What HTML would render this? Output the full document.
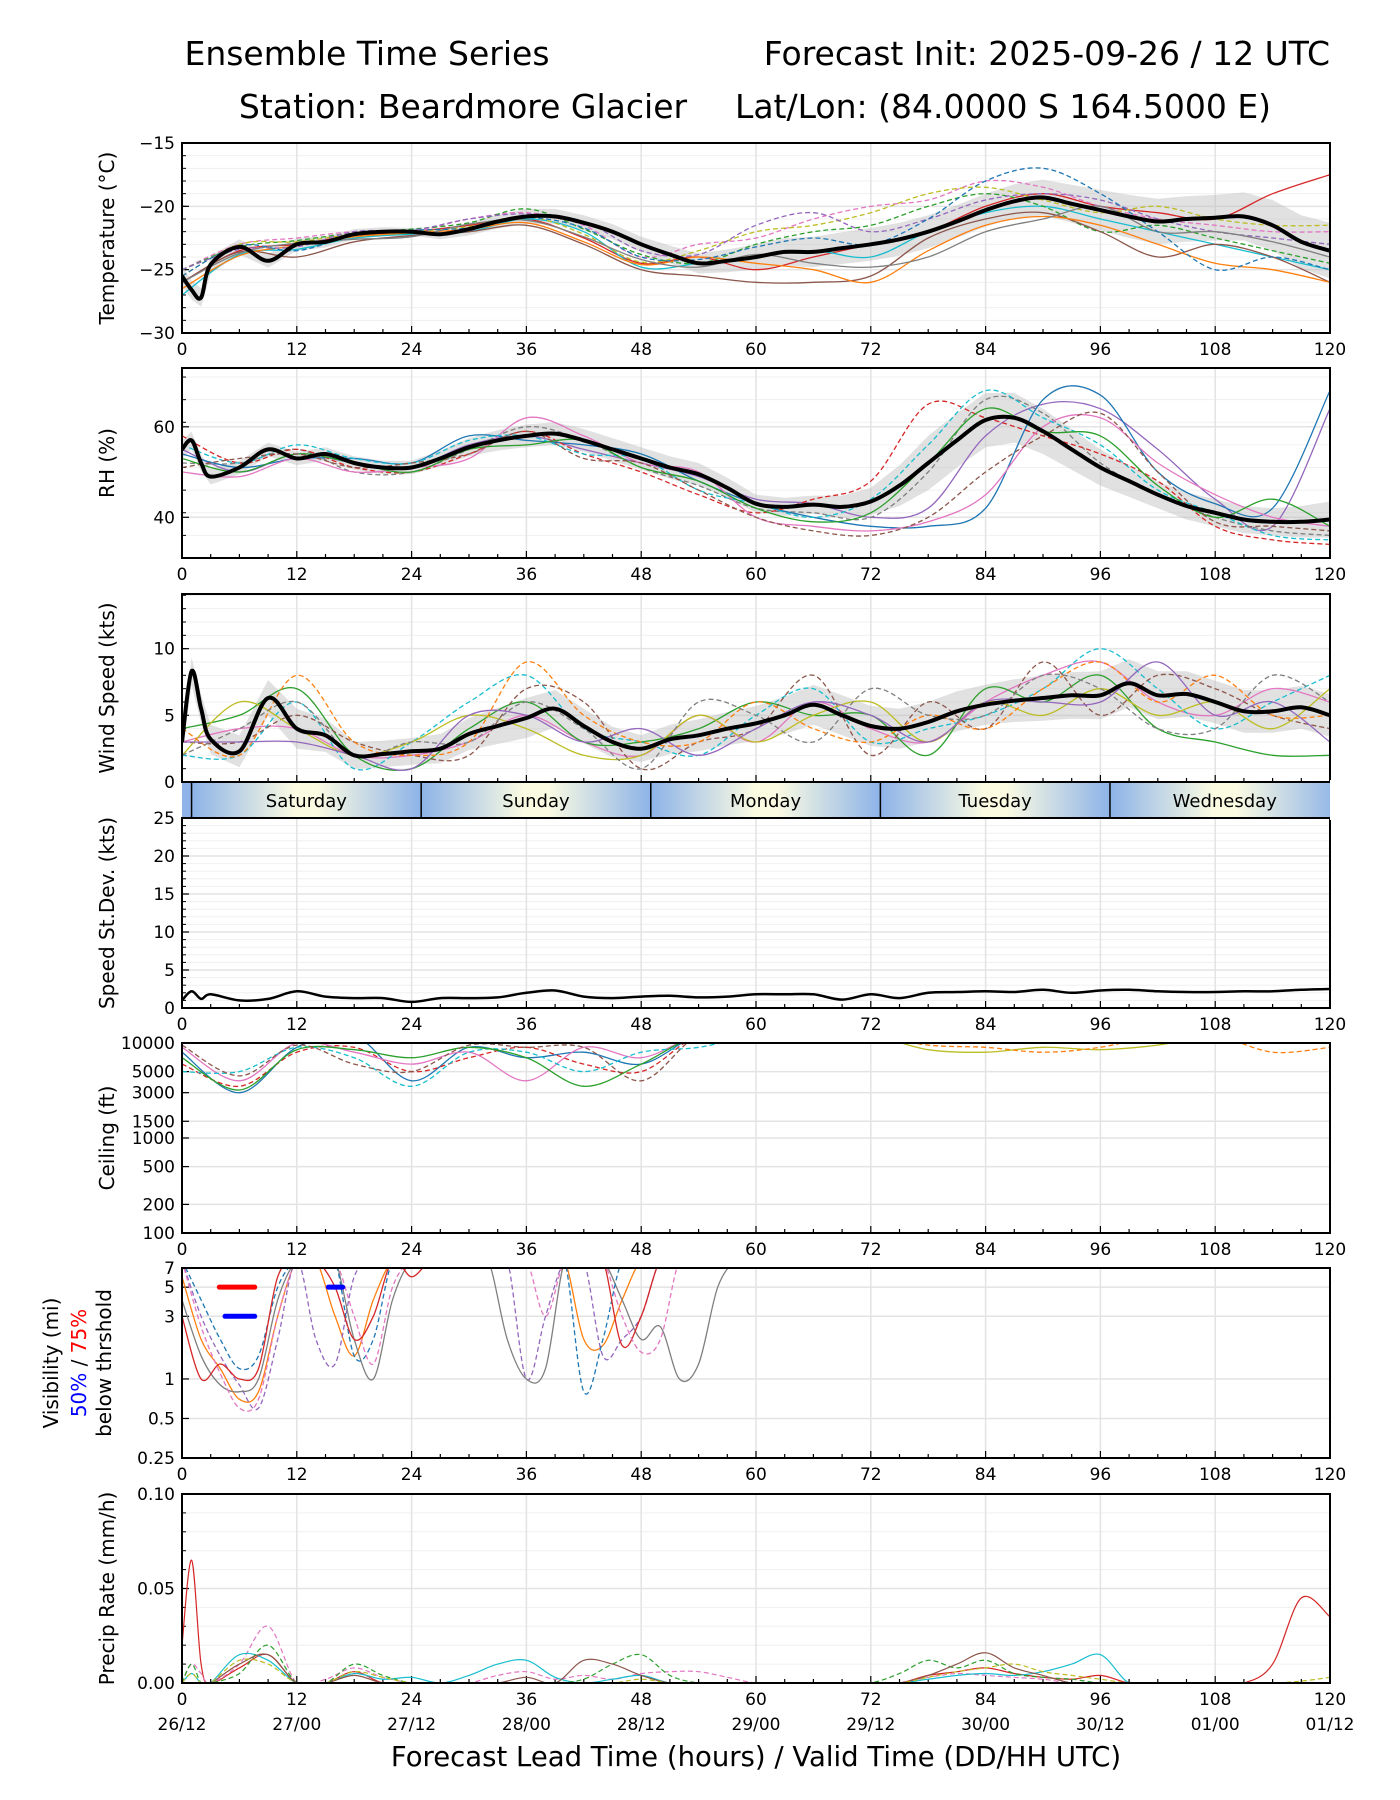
<!DOCTYPE html>
<html><head><meta charset="utf-8"><title>Ensemble Time Series</title>
<style>
html,body{margin:0;padding:0;background:#fff;}
svg{display:block;font-family:"DejaVu Sans","Liberation Sans",sans-serif;}
</style></head>
<body>
<svg id="chart" width="1400" height="1800" viewBox="0 0 1400 1800" xmlns="http://www.w3.org/2000/svg">
<rect x="0" y="0" width="1400" height="1800" fill="#fff"/>
<text x="367" y="65" font-size="33" text-anchor="middle">Ensemble Time Series</text>
<text x="1330" y="65" font-size="33" text-anchor="end">Forecast Init: 2025-09-26 / 12 UTC</text>
<text x="463" y="118" font-size="33" text-anchor="middle">Station: Beardmore Glacier</text>
<text x="1003" y="118" font-size="33" text-anchor="middle">Lat/Lon: (84.0000 S 164.5000 E)</text>
<text x="756" y="1766" font-size="27.5" text-anchor="middle">Forecast Lead Time (hours) / Valid Time (DD/HH UTC)</text>
<defs>
<linearGradient id="dayGrad" x1="0" x2="1" y1="0" y2="0">
<stop offset="0" stop-color="#8db3e8"/><stop offset="0.45" stop-color="#fbfbe2"/><stop offset="0.55" stop-color="#fbfbe2"/><stop offset="1" stop-color="#8db3e8"/>
</linearGradient>
</defs>
<g id="root"></g>
</svg>
<script>
// ---------- data ----------
const H = [0,1,2,3,6,9,12,15,18,21,24,27,30,33,36,39,42,45,48,51,54,57,60,63,66,69,72,75,78,81,84,87,90,93,96,99,102,105,108,111,114,117,120];
const H6 = [0,6,12,18,24,30,36,42,48,54,60,66,72,78,84,90,96,102,108,114,120];
const HV = [0,2,4,6,8,10,12,14,16,18,20,22,24,26,28,30,32,34,36,38,40,42,44,46,48,50,52,54,56,58,60];
const xTickLabels = ['0','12','24','36','48','60','72','84','96','108','120'];
const dateLabels = ['26/12','27/00','27/12','28/00','28/12','29/00','29/12','30/00','30/12','01/00','01/12'];
const dayNames = ['Saturday','Sunday','Monday','Tuesday','Wednesday'];

const tempMean = [-25.5,-26.6,-27.2,-24.6,-23.2,-24.3,-23.0,-22.8,-22.2,-22.0,-22.0,-22.2,-21.8,-21.2,-20.8,-20.8,-21.3,-22.0,-23.0,-23.8,-24.5,-24.3,-24.0,-23.6,-23.6,-23.3,-23.0,-22.6,-22.0,-21.2,-20.3,-19.6,-19.3,-19.8,-20.3,-20.8,-21.2,-21.0,-20.9,-20.8,-21.5,-22.8,-23.5];
const tempSpread = [0.8,0.6,0.5,0.4,0.3,0.5,0.6,0.6,0.6,0.8,1.0,1.2,1.3,1.3,1.3,1.4,1.6,1.8,1.8,2.0,2.2];
const tempMembers = [
[-26,-23.5,-23,-22.3,-22,-21.5,-21,-22.5,-24.5,-24,-25,-24,-23,-22,-20,-19,-20,-20.5,-21,-19,-17.5],
[-25,-23,-22.5,-22,-22,-21,-20.5,-21.5,-24,-23,-22.5,-21,-20,-19.5,-18,-18.5,-20,-21,-21.5,-22,-22],
[-27,-23.8,-23.4,-22.5,-22.2,-22,-21,-22,-24.8,-24.5,-24,-23.5,-24,-22,-20.5,-20,-21,-22,-23,-24,-25],
[-25,-23.2,-22.7,-22.1,-21.8,-21.3,-20.2,-21.8,-23.8,-24.5,-23,-22,-21.5,-20,-19,-20,-22,-21.5,-22.5,-23.5,-24.5],
[-26,-23.6,-24,-22.8,-22.3,-22,-21.5,-23,-25,-25.5,-26,-26,-25.5,-22.5,-21,-20.5,-22,-24,-23,-24,-26],
[-25.5,-23,-22.8,-22.2,-22,-21.6,-20.8,-22.2,-24.4,-23.5,-22,-21.5,-20.5,-19,-18.5,-19.5,-20.5,-20,-21,-21.5,-21.5],
[-26.5,-23.9,-23.1,-22.4,-22.1,-21.8,-21.3,-22.8,-24.6,-24,-24.5,-25,-26,-23.5,-21.5,-20.8,-21.5,-23,-24.5,-25,-26],
[-25,-23.4,-23.2,-22,-21.9,-21,-20.6,-21.2,-23.5,-23.8,-21.5,-20.5,-22,-21,-19.5,-19,-19.5,-21,-22,-22.5,-23],
[-26,-23.7,-22.9,-22.6,-22.4,-21.4,-21.1,-22.4,-24.2,-24.8,-23.8,-24.5,-24.8,-24,-22,-21,-20,-22,-22,-22.8,-24],
[-25.5,-23.1,-23.5,-22.3,-21.9,-21.7,-20.9,-21.7,-24,-24.2,-23.2,-22.5,-23,-21,-18,-17,-19,-22,-25,-24,-25]
];

const rhMean = [55,57,52,49,51,55,53,54,52,51,51,53,55.5,57,58,58.5,57,55,53,51,49.5,46.5,43,42.3,42.8,42.3,43.5,47,52,57,61.5,62,59,55,51,48,45,42.5,41,39.5,39,39,39.5];
const rhSpread = [2,1.5,1.5,1.5,1.5,2,2.5,2.5,2.5,2.5,2,2,3,6,6,5,4,3,3,3,4];
const rhMembers = [
[55,50,54,52,51,56,58,55,52,49,44,43,40,42,58,65,64,55,44,38,64],
[52,52,55,50,50,55,60,57,51,47,42,41,40,50,66,63,52,45,40,37,36],
[54,51,53,53,52,58,57,56,54,48,43,40,38,38,42,66,67,50,43,42,68],
[58,52,55,51,50,54,59,54,50,45,41,44,48,65,62,58,54,48,38,35,34],
[50,49,53,50,51,53,62,58,52,50,40,38,37,39,45,60,62,52,45,40,38],
[56,52,56,53,52,57,58,54,53,46,43,40,44,56,68,62,56,46,41,36,35],
[53,50,54,52,50,55,56,57,51,48,42,39,41,52,64,59,58,47,40,44,38],
[51,53,54,51,52,54,59,53,52,46,40,37,36,40,50,58,63,50,39,38,37]
];

const windMean = [3,8.3,5.5,3.2,2.3,6.3,4,3.5,2,2.1,2.3,2.5,3.6,4.2,4.8,5.5,4.2,3,2.5,3.2,3.5,4,4.4,5,5.8,5,4.2,4,4.5,5.3,5.8,6.1,6.3,6.5,6.5,7.4,6.5,6.6,6,5.3,5.3,5.6,5];
const windSpread = [1,1.2,1.5,1,1,1.2,1.5,1.3,1,1.2,1.3,1.5,1.5,1.5,1.5,1.7,1.8,1.8,1.6,1.6,1.6];
const windMembers = [
[3,4,4,2,2,3,5,3,2,5,3,6,4,3,6,8,9,6,5,7,6],
[2,2,6,1,3,6,8,4,3,2,5,7,3,4,5,7,10,7,4,6,8],
[4,5,7,2,1,4,6,3,3,4,6,5,5,2,7,6,8,4,3,2,2],
[3,3,5,3,2,2,7,6,1,3,4,8,2,6,4,9,5,8,7,5,4],
[2,6,4,2,3,5,4,2,2,5,3,5,6,3,6,5,7,5,6,4,7],
[4,2,8,3,2,3,9,5,3,3,6,4,3,5,4,7,9,6,8,5,5],
[3,3,3,2,1,5,5,3,4,2,4,6,5,3,6,6,6,9,5,6,3],
[2,4,6,2,3,3,6,4,1,6,5,3,7,5,5,8,7,4,4,8,6]
];

const stdDev = [1,2.2,1.2,1.8,1,1.2,2.2,1.5,1.3,1.3,0.8,1.3,1.3,1.4,2,2.3,1.5,1.3,1.5,1.6,1.4,1.5,1.8,1.8,1.8,1.1,1.8,1.3,2,2.1,2.2,2.1,2.4,2,2.3,2.4,2.2,2.1,2.1,2.2,2.2,2.4,2.5];

const ceilMembers = [
[8000,3000,9000,12000,4000,9000,7000,8000,6000,12000,12000,12000,12000,12000,12000,12000,12000,12000,12000,12000,12000],
[6000,3500,8000,9000,5000,7000,9000,6000,5000,12000,12000,12000,12000,12000,12000,12000,12000,12000,12000,12000,12000],
[9000,4000,10000,8000,6000,8000,4000,9000,7000,12000,12000,12000,12000,12000,12000,12000,12000,12000,12000,12000,12000],
[5000,5000,9000,7000,3500,8000,8000,5000,8000,9000,12000,12000,12000,12000,12000,12000,12000,12000,12000,12000,12000],
[7000,3200,8500,8500,7000,9000,7000,3500,6000,12000,12000,12000,12000,12000,12000,12000,12000,12000,12000,12000,12000],
[9500,4500,9500,6000,5000,9500,9000,9000,4000,12000,12000,12000,12000,12000,12000,12000,12000,12000,12000,12000,12000],
[12000,12000,12000,12000,12000,12000,12000,12000,12000,12000,12000,12000,12000,8500,8000,9000,8500,9500,12000,12000,12000],
[12000,12000,12000,12000,12000,12000,12000,12000,12000,12000,12000,12000,12000,9500,9000,8000,9000,12000,12000,8000,9000]
];

const visMembers = [
[6,2,1.2,0.7,0.8,3,8,8,3,1.5,4,8,8,8,8,8,8,8,8,8,8,2,1.8,4,8,8,8,8,8,8,8],
[8,3,1.5,0.9,0.6,2,8,2,1.3,6,8,8,8,8,8,8,8,8,1,3,8,8,1.5,2,3,8,8,8,8,8,8],
[4,1.5,0.9,0.8,1,4,8,8,8,2,1,4,8,8,8,8,8,2,1,1.2,8,8,8,4,2,2.5,1,1.3,5,8,8],
[8,4,2,1.2,1.5,5,8,8,8,1.5,2,8,8,8,8,8,8,8,8,8,8,0.8,2,8,8,8,8,8,8,8,8],
[3,1,1.3,1,1.2,6,8,8,5,2,3,8,6,8,8,8,8,8,8,8,8,8,8,1.8,3,8,8,8,8,8,8],
[8,2.5,1.1,0.6,0.7,3,8,8,8,3,1.3,5,8,8,8,8,8,8,8,3,8,8,8,3,1.6,2,8,8,8,8,8]
];
const visThreshStart = [3.9, 4.5, 15.3];
const visThreshEnd = [7.6, 7.6, 16.8];
const visThreshLevel = [5, 3, 5];
const visThreshColor = ['#ff0000','#0000ff','#0000ff'];

const precipMembers = [
[0.02,0.065,0.01,0,0.008,0.015,0,0,0.006,0,0,0,0,0,0,0,0,0,0,0,0,0,0,0,0,0,0,0,0.004,0.006,0.008,0.005,0.003,0.002,0.004,0,0,0,0,0,0.01,0.045,0.035],
[0,0.01,0.005,0,0.01,0.03,0,0.002,0.008,0.003,0,0,0,0.004,0.006,0.002,0.004,0.002,0.005,0.006,0.006,0.003,0,0,0,0,0,0,0.003,0.005,0.004,0.003,0.002,0,0,0,0,0,0,0,0,0,0],
[0,0.005,0,0,0.015,0.012,0,0,0.005,0.002,0.003,0,0.004,0.01,0.012,0.003,0,0.002,0.004,0,0,0,0,0,0,0,0,0,0.002,0.004,0.005,0.004,0.006,0.01,0.015,0,0,0,0,0,0,0,0],
[0,0.01,0,0,0.005,0.02,0,0,0.01,0.004,0,0,0,0,0,0,0.002,0.01,0.015,0.004,0,0,0,0,0,0,0,0.005,0.012,0.008,0.012,0.005,0.003,0.002,0,0,0,0,0,0,0,0,0],
[0,0,0,0,0.01,0.015,0,0,0.004,0,0,0,0,0,0.003,0,0.012,0.01,0.004,0,0,0,0,0,0,0,0,0,0.004,0.01,0.016,0.008,0.004,0,0,0,0,0,0,0,0,0,0],
[0,0.005,0,0,0.012,0.01,0,0,0.006,0.003,0,0,0,0,0,0,0,0,0.002,0,0,0,0,0,0,0,0,0,0.003,0.006,0.008,0.01,0.006,0.004,0.002,0,0,0,0,0,0,0.001,0.003]
];

// ---------- layout ----------
const X0 = 182, X1 = 1330;
const PAL = ['#1f77b4','#ff7f0e','#2ca02c','#d62728','#9467bd','#8c564b','#e377c2','#7f7f7f','#bcbd22','#17becf'];
const NS = 'http://www.w3.org/2000/svg';
const root = document.getElementById('root');
function xs(h){ return X0 + h*(X1-X0)/120; }
function mk(tag, attrs, parent){
  const el = document.createElementNS(NS, tag);
  for (const k in attrs) el.setAttribute(k, attrs[k]);
  (parent||root).appendChild(el);
  return el;
}
function smooth(pts){
  let d = 'M'+pts[0][0].toFixed(1)+','+pts[0][1].toFixed(1);
  for (let i=0;i<pts.length-1;i++){
    const p0 = pts[i-1]||pts[i], p1=pts[i], p2=pts[i+1], p3=pts[i+2]||pts[i+1];
    const c1x=p1[0]+(p2[0]-p0[0])/6, c1y=p1[1]+(p2[1]-p0[1])/6;
    const c2x=p2[0]-(p3[0]-p1[0])/6, c2y=p2[1]-(p3[1]-p1[1])/6;
    d += ' C'+c1x.toFixed(1)+','+c1y.toFixed(1)+' '+c2x.toFixed(1)+','+c2y.toFixed(1)+' '+p2[0].toFixed(1)+','+p2[1].toFixed(1);
  }
  return d;
}
function interp(hs, vs, h){
  for (let i=0;i<hs.length-1;i++){
    if (h>=hs[i] && h<=hs[i+1]) return vs[i]+(vs[i+1]-vs[i])*(h-hs[i])/(hs[i+1]-hs[i]);
  }
  return vs[vs.length-1];
}

const panels = [
 {id:'temperature', top:143, bot:333, min:-30, max:-15, log:false, ticks:[-30,-25,-20,-15], labels:['\u221230','\u221225','\u221220','\u221215'], minor:1, ylabel:['Temperature (\u00b0C)'], xlabels:true},
 {id:'rh', top:368, bot:558, min:31, max:73, log:false, ticks:[40,60], labels:['40','60'], minor:5, ylabel:['RH (%)'], xlabels:true},
 {id:'wind-speed', top:594, bot:782, min:0, max:14.1, log:false, ticks:[0,5,10], labels:['0','5','10'], minor:1, ylabel:['Wind Speed (kts)'], xlabels:false},
 {id:'speed-stdev', top:818, bot:1008, min:0, max:25, log:false, ticks:[0,5,10,15,20,25], labels:['0','5','10','15','20','25'], minor:1, ylabel:['Speed St.Dev. (kts)'], xlabels:true},
 {id:'ceiling', top:1043, bot:1233, min:100, max:10000, log:true, ticks:[100,200,500,1000,1500,3000,5000,10000], labels:['100','200','500','1000','1500','3000','5000','10000'], minor:0, ylabel:['Ceiling (ft)'], xlabels:true},
 {id:'visibility', top:1268, bot:1458, min:0.25, max:7, log:true, ticks:[0.25,0.5,1,3,5,7], labels:['0.25','0.5','1','3','5','7'], minor:0, ylabel:null, xlabels:true},
 {id:'precip', top:1494, bot:1683, min:0, max:0.1, log:false, ticks:[0,0.05,0.1], labels:['0.00','0.05','0.10'], minor:0.01, ylabel:['Precip Rate (mm/h)'], xlabels:true}
];
panels.forEach(p=>{
  p.ys = p.log
    ? v => p.bot - (Math.log10(v)-Math.log10(p.min))/(Math.log10(p.max)-Math.log10(p.min))*(p.bot-p.top)
    : v => p.bot - (v-p.min)/(p.max-p.min)*(p.bot-p.top);
});

// ---------- draw panels ----------
panels.forEach((p,pi)=>{
  const g = mk('g',{});
  
  
  const cp = mk('clipPath',{id:'clip'+pi}, g);
  mk('rect',{x:X0,y:p.top,width:X1-X0,height:p.bot-p.top}, cp);
  if (p.minor){
    for (let v=p.min; v<=p.max+1e-9; v+=p.minor){
      const y=p.ys(v);
      const gl = mk('line',{x1:X0,x2:X1,y1:y,y2:y,stroke:'#f0f0f0','stroke-width':1}, g);
      
      
    }
  }
  for (let h=12; h<120; h+=12){
    const vl = mk('line',{x1:xs(h),x2:xs(h),y1:p.top,y2:p.bot,stroke:'#e3e3e3','stroke-width':1.5}, g);
    
    
  }
  p.ticks.forEach((t,i)=>{
    const y=p.ys(t);
    const hl = mk('line',{x1:X0,x2:X1,y1:y,y2:y,stroke:'#e3e3e3','stroke-width':1.5}, g);
    
    
    const tk = mk('line',{x1:X0,x2:X0+7,y1:y,y2:y,stroke:'#000','stroke-width':1.2}, g);
    
    
    const tl = mk('text',{x:X0-7,y:y+6,'font-size':17,'text-anchor':'end'}, g);
    tl.textContent = p.labels[i];
    
    
  });
  if (p.minor && !p.log){
    for (let v=p.min; v<=p.max+1e-9; v+=p.minor){
      const y=p.ys(v);
      const mt = mk('line',{x1:X0,x2:X0+4,y1:y,y2:y,stroke:'#000','stroke-width':1}, g);
      
      
    }
  }
  for (let h=0; h<=120; h+=3){
    const major = h%12===0;
    const xt = mk('line',{x1:xs(h),x2:xs(h),y1:p.bot,y2:p.bot-(major?7:4),stroke:'#000','stroke-width':1.2}, g);
    
    
  }
  if (p.xlabels){
    xTickLabels.forEach((lab,i)=>{
      const t = mk('text',{x:xs(i*12),y:p.bot+22,'font-size':17,'text-anchor':'middle'}, g);
      t.textContent = lab;
      
      
    });
  }
  if (p.ylabel){
    const cy=(p.top+p.bot)/2;
    const yl = mk('text',{x:0,y:0,'font-size':20,'text-anchor':'middle',transform:'translate(114,'+cy+') rotate(-90)'}, g);
    yl.textContent = p.ylabel[0];
    
    
  }
  p.g = mk('g',{'clip-path':'url(#clip'+pi+')'}, g);
  p.frameParent = g;
});

function drawMembers(p, hours, members, name, lw){
  members.forEach((m,mi)=>{
    const pts = hours.map((h,i)=>[xs(h), p.ys(m[i])]);
    const attrs = {d:smooth(pts), fill:'none', stroke:PAL[(mi*3+ (p.top%7))%10], 'stroke-width':lw||1.3};
    if (mi%2===1) attrs['stroke-dasharray']='5,3';
    const path = mk('path', attrs, p.g);
    
    
  });
}
function drawBand(p, meanArr, spread, name){
  const up=[], lo=[];
  for (let h=0; h<=120; h+=1){
    const m = interp(H, meanArr, h), s = interp(H6, spread, h);
    up.push(xs(h).toFixed(1)+','+p.ys(m+s).toFixed(1));
    lo.unshift(xs(h).toFixed(1)+','+p.ys(m-s).toFixed(1));
  }
  const poly = mk('polygon',{points:up.concat(lo).join(' '), fill:'#bdbdbd','fill-opacity':0.45}, p.g);
  
  
}
function drawMean(p, arr, name, w){
  const pts = H.map((h,i)=>[xs(h), p.ys(arr[i])]);
  const path = mk('path',{d:smooth(pts), fill:'none', stroke:'#000','stroke-width':w||4,'stroke-linejoin':'round'}, p.g);
  
  
}

const [pT,pR,pW,pS,pC,pV,pP] = panels;
drawBand(pT, tempMean, tempSpread, 'temperature');
drawMembers(pT, H6, tempMembers, 'temperature');
drawMean(pT, tempMean, 'temperature');

drawBand(pR, rhMean, rhSpread, 'rh');
drawMembers(pR, H6, rhMembers, 'rh');
drawMean(pR, rhMean, 'rh');

drawBand(pW, windMean, windSpread, 'wind');
drawMembers(pW, H6, windMembers, 'wind');
drawMean(pW, windMean, 'wind');

drawMean(pS, stdDev, 'speed-stdev', 2.5);

drawMembers(pC, H6, ceilMembers, 'ceiling');
drawMembers(pV, HV, visMembers, 'visibility');
visThreshStart.forEach((s,i)=>{
  const y = pV.ys(visThreshLevel[i]);
  const l = mk('line',{x1:xs(s),x2:xs(visThreshEnd[i]),y1:y,y2:y,stroke:visThreshColor[i],'stroke-width':5,'stroke-linecap':'round'}, pV.g);
  
  
});
drawMembers(pP, H, precipMembers, 'precip', 1.2);

panels.forEach(p=>{
  const fr = mk('rect',{x:X0,y:p.top,width:X1-X0,height:p.bot-p.top,fill:'none',stroke:'#000','stroke-width':2}, p.frameParent);
  
  
});

{
  const cy=(pV.top+pV.bot)/2;
  const a = mk('text',{'font-size':20,'text-anchor':'middle',transform:'translate(58,'+cy+') rotate(-90)'});
  a.textContent='Visibility (mi)';
  
  
  const b = mk('text',{'font-size':20,'text-anchor':'middle',transform:'translate(86,'+cy+') rotate(-90)'});
  
  
  const s1 = mk('tspan',{fill:'#0000ff'}, b); s1.textContent='50%';
  const s2 = mk('tspan',{fill:'#000'}, b); s2.textContent=' / ';
  const s3 = mk('tspan',{fill:'#ff0000'}, b); s3.textContent='75%';
  const c = mk('text',{'font-size':20,'text-anchor':'middle',transform:'translate(111,'+cy+') rotate(-90)'});
  c.textContent='below thrshold';
  
  
}

{
  const bg = mk('g',{});
  
  
  const r0 = mk('rect',{x:X0,y:783,width:xs(1)-X0,height:34,fill:'#8db3e8'}, bg);
  
  
  dayNames.forEach((d,i)=>{
    const s = 1+i*24;
    const r = mk('rect',{x:xs(s),y:783,width:xs(s+24)-xs(s),height:34,fill:'url(#dayGrad)'}, bg);
    
    
    const t = mk('text',{x:xs(s+12),y:807,'font-size':18,'text-anchor':'middle'}, bg);
    t.textContent = d;
    
    
    const l = mk('line',{x1:xs(s),x2:xs(s),y1:783,y2:817,stroke:'#000','stroke-width':1.5}, bg);
    
    
  });
  const cover = mk('rect',{x:X1,y:780,width:70,height:40,fill:'#fff'}, bg);
  
  
}

dateLabels.forEach((d,i)=>{
  const t = mk('text',{x:xs(i*12),y:1730,'font-size':17,'text-anchor':'middle'});
  t.textContent = d;
  
  
});
</script>
</body></html>
